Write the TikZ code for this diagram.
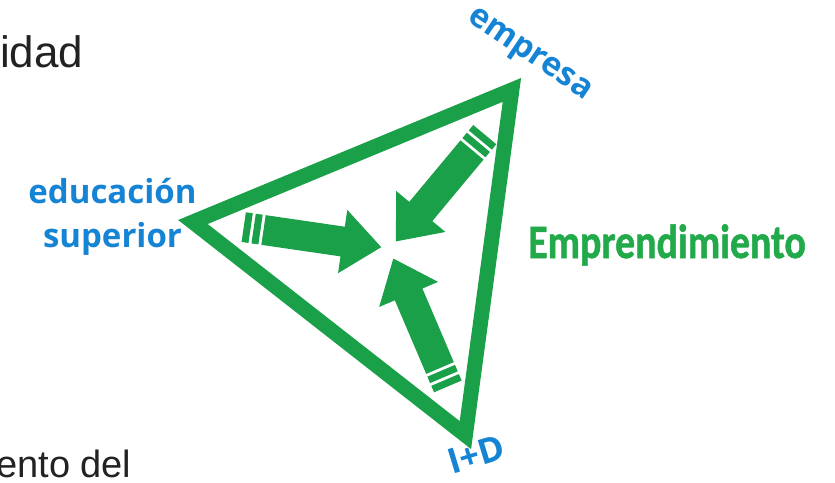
\documentclass[tikz,border=0pt]{standalone}
\usepackage{fontspec}
\setmainfont{Liberation Sans}
\newfontfamily\lblfont{Open Sans}
\newfontfamily\empfont{Carlito}[BoldFeatures={FakeBold=1.2}]
\definecolor{tgreen}{RGB}{26,160,72}
\definecolor{egreen}{RGB}{34,170,74}
\definecolor{lblue}{RGB}{22,132,212}
\definecolor{dgray}{RGB}{34,34,34}
\tikzset{
  blockarrow/.pic={
    \fill[tgreen] (0,-15) -- (80,-15) -- (80,-32) -- (119,0) -- (80,32) -- (80,15) -- (0,15) -- cycle;
    \fill[tgreen] (-3,-15) rectangle (-10,15);
    \fill[tgreen] (-13,-15) rectangle (-20,15);
  },
  bluelbl/.style={text=lblue, font=\lblfont\bfseries\fontsize{33}{38}\selectfont, inner sep=0pt},
  bodytxt/.style={text=dgray, inner sep=0pt, anchor=base west}
}
\begin{document}
\begin{tikzpicture}[x=1pt,y=-1pt]
\useasboundingbox (0,0) rectangle (835,482);
% body text fragments
\node[bodytxt, font=\fontsize{44}{50}\selectfont] (t1) at (0,67) {idad};
\node[bodytxt, font=\fontsize{38}{44}\selectfont] (t2) at (-4,477) {ento del};
% triangle
\coordinate (T) at (511.9,89.9);
\coordinate (L) at (192.9,222.0);
\coordinate (B) at (465.4,435.1);
\draw[tgreen, line width=15pt, line join=miter] (T) -- (L) -- (B) -- cycle;
% arrows
\pic[rotate=-8.3] at (263.5,230) {blockarrow};
\pic[rotate=-129.8] at (472,150) {blockarrow};
\pic[rotate=113.1] at (440,368) {blockarrow};
% labels
\node[bluelbl, anchor=base] (edu) at (112.5,203) {educación};
\node[bluelbl, anchor=base] (sup) at (112.5,247) {superior};
\node[bluelbl, anchor=mid, rotate=-34] (emp) at (527,58) {empresa};
\node[bluelbl, anchor=mid, rotate=17, font=\lblfont\bfseries\fontsize{35}{40}\selectfont] (id) at (479,464) {I+D};
\node[text=egreen, font=\empfont\bfseries\fontsize{48}{52}\selectfont, inner sep=0pt, anchor=base west] (empr) at (528,258) {\scalebox{0.83}[1]{Emprendimiento}};
\end{tikzpicture}
\end{document}
